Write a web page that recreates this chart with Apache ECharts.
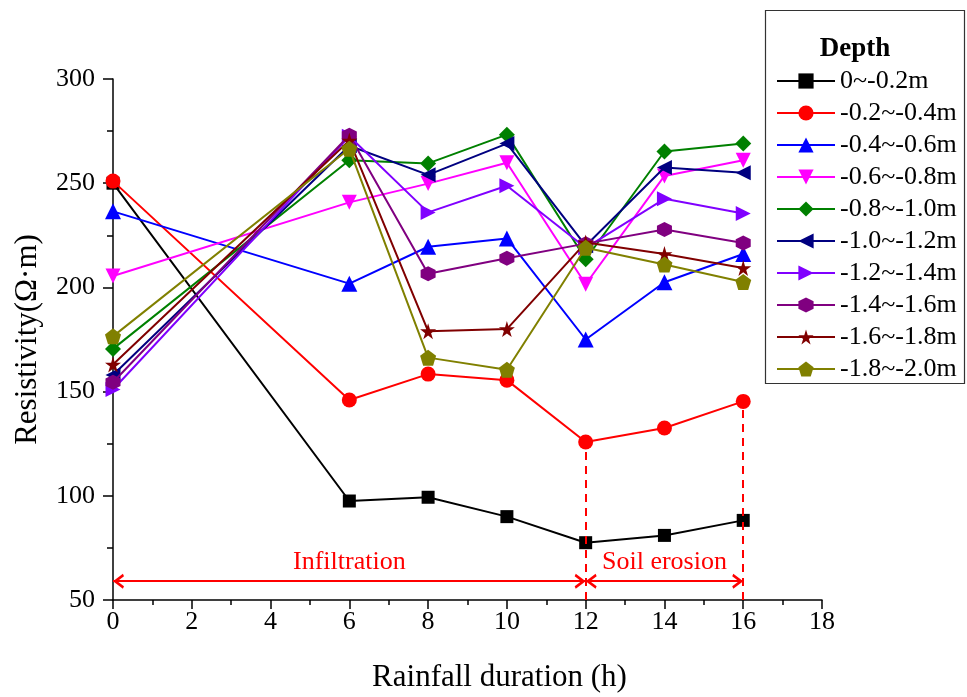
<!DOCTYPE html>
<html>
<head>
<meta charset="utf-8">
<script src="https://cdn.jsdelivr.net/npm/echarts@6/dist/echarts.min.js"></script>
<style>html,body{margin:0;padding:0;background:#fff;}#c{width:967px;height:697px;}</style>
</head>
<body>
<div id="c"></div>
<script>
// ---- data ----
var hours = [0, 6, 8, 10, 12, 14, 16];
var depthNames = ['0~-0.2m','-0.2~-0.4m','-0.4~-0.6m','-0.6~-0.8m','-0.8~-1.0m','-1.0~-1.2m','-1.2~-1.4m','-1.4~-1.6m','-1.6~-1.8m','-1.8~-2.0m'];
var d00_02 = [250, 97.5, 99.3, 90, 77.5, 81, 88.2];
var d02_04 = [251, 146, 158.4, 155.5, 125.8, 132.5, 145.3];
var d04_06 = [236.5, 201.8, 219.5, 223.5, 175, 202.5, 216];
var d06_08 = [205.5, 240.8, 249.8, 259.8, 201.5, 253.5, 261];
var d08_10 = [170.5, 261, 259.5, 273.3, 213.5, 265.2, 269];
var d10_12 = [158, 268, 254, 269, 220, 257.5, 255];
var d12_14 = [151, 272.5, 236, 248.8, 219, 242.5, 235.5];
var d14_16 = [154.5, 273, 206.5, 214, 221, 227.8, 221.3];
var d16_18 = [163, 270.5, 179, 180, 221.5, 216, 209.3];
var d18_20 = [176.5, 266.5, 166.3, 160.5, 219, 211, 202.6];
var xTicks = [0, 2, 4, 6, 8, 10, 12, 14, 16, 18];
var yTicks = [50, 100, 150, 200, 250, 300];
var phaseNames = ['Infiltration', 'Soil erosion'];
var phaseBounds = [0, 12, 16];
var phaseArrowY = 59;

// ---- styles ----
var colors = ['#000000','#ff0000','#0000ff','#ff00ff','#008000','#000080','#8000ff','#800080','#800000','#808000'];
var symbols = [
  'rect', 'circle', 'triangle',
  'path://M0,0 L10,0 L5,9 Z',
  'diamond',
  'path://M10,0 L10,10 L1,5 Z',
  'path://M0,0 L9,5 L0,10 Z',
  'path://M5,0 L9.33,2.5 L9.33,7.5 L5,10 L0.67,7.5 L0.67,2.5 Z',
  'path://M50,0 L61,35 L98,35 L68,57 L79,91 L50,70 L21,91 L32,57 L2,35 L39,35 Z',
  'path://M5,0 L10,3.8 L8.1,10 L1.9,10 L0,3.8 Z'
];
var sizes = [13, 15, 16, 15, 16, 15, 15, 15, 16, 16];
var allData = [d00_02, d02_04, d04_06, d06_08, d08_10, d10_12, d12_14, d14_16, d16_18, d18_20];

var FONT = '"Liberation Serif", "Times New Roman", serif';

var series = allData.map(function (arr, i) {
  return {
    name: depthNames[i],
    type: 'line',
    data: hours.map(function (h, j) { return [h, arr[j]]; }),
    symbol: symbols[i],
    symbolSize: sizes[i],
    lineStyle: { color: colors[i], width: 2 },
    itemStyle: { color: colors[i] },
    z: 3 + i
  };
});

// annotation series: phase arrows and dashed boundaries
var arrowLines = [];
for (var k = 0; k < phaseNames.length; k++) {
  arrowLines.push([
    { coord: [phaseBounds[k], phaseArrowY], label: { formatter: phaseNames[k] } },
    { coord: [phaseBounds[k + 1], phaseArrowY] }
  ]);
}
var dashLines = [12, 16].map(function (h) {
  return [{ coord: [h, 50] }, { coord: [h, d02_04[hours.indexOf(h)]] }];
});

// open chevron whose tip sits at the symbol centre
var chevron = 'path://M5,-10 L5.01,-10 M5,0 L10,9 L8.4,10 L5,4 L1.6,10 L0,9 Z';

series.push({
  name: 'phases',
  type: 'line',
  data: [],
  z: 2,
  markLine: {
    silent: true,
    symbol: [chevron, chevron],
    symbolSize: [15, 22],
    lineStyle: { color: '#ff0000', width: 2, type: 'solid' },
    itemStyle: { color: '#ff0000' },
    label: { show: true, position: 'middle', distance: 6, color: '#ff0000', fontSize: 26, fontFamily: FONT },
    data: arrowLines
  }
});
series.push({
  name: 'bounds',
  type: 'line',
  data: [],
  z: 2,
  markLine: {
    silent: true,
    symbol: ['none', 'none'],
    lineStyle: { color: '#ff0000', width: 2, type: [8, 6] },
    label: { show: false },
    data: dashLines
  }
});

var chart = echarts.init(document.getElementById('c'));
chart.setOption({
  backgroundColor: '#ffffff',
  animation: false,
  textStyle: { fontFamily: FONT },
  grid: { left: 113, right: 145, top: 79, bottom: 97, containLabel: false, outerBoundsMode: 'none' },
  xAxis: {
    type: 'value', min: xTicks[0], max: xTicks[xTicks.length - 1], interval: 2,
    name: 'Rainfall duration (h)', nameLocation: 'middle', nameGap: 62,
    nameTextStyle: { fontSize: 31, color: '#000', fontFamily: FONT, padding: [0, 0, 0, 64] },
    axisLine: { lineStyle: { color: '#000', width: 1.5 } },
    axisTick: { show: true, length: 9, lineStyle: { color: '#000', width: 1.5 } },
    minorTick: { show: true, splitNumber: 2, length: 5, lineStyle: { color: '#000', width: 1.5 } },
    axisLabel: { fontSize: 26, color: '#000', fontFamily: FONT, margin: 9 },
    splitLine: { show: false }
  },
  yAxis: {
    type: 'value', min: yTicks[0], max: yTicks[yTicks.length - 1], interval: 50,
    name: 'Resistivity(Ω·m)', nameLocation: 'middle', nameGap: 70,
    nameTextStyle: { fontSize: 31, color: '#000', fontFamily: FONT },
    axisLine: { show: true, lineStyle: { color: '#000', width: 1.5 } },
    axisTick: { show: true, length: 10, lineStyle: { color: '#000', width: 1.5 } },
    minorTick: { show: true, splitNumber: 2, length: 6, lineStyle: { color: '#000', width: 1.5 } },
    axisLabel: { fontSize: 26, color: '#000', fontFamily: FONT, margin: 18 },
    splitLine: { show: false }
  },
  legend: {
    data: depthNames,
    orient: 'vertical',
    left: 771, top: 63,
    itemWidth: 58, itemHeight: 19, itemGap: 6,
    textStyle: { fontSize: 26, color: '#000', fontFamily: FONT, lineHeight: 22 }
  },
  graphic: [
    { type: 'rect', left: 763, top: 8, shape: { width: 199, height: 373 }, style: { fill: 'none', stroke: '#333', lineWidth: 1.2 }, z: 100 },
    { type: 'text', style: { x: 855, y: 49, text: 'Depth', font: 'bold 27px ' + FONT, fill: '#000', textAlign: 'center', textVerticalAlign: 'middle' }, z: 100 }
  ],
  series: series
});
</script>
</body>
</html>
